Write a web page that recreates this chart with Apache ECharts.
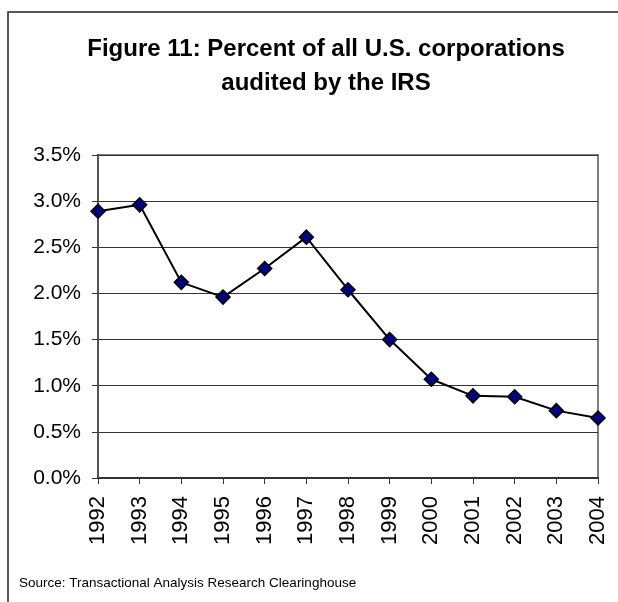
<!DOCTYPE html>
<html>
<head>
<meta charset="utf-8">
<script src="https://cdn.jsdelivr.net/npm/echarts@6/dist/echarts.min.js"></script>
<style>
html, body { margin: 0; padding: 0; background: #fff; }
#main { width: 618px; height: 602px; }
</style>
</head>
<body>
<div id="main"></div>
<script>
var years = ['1992', '1993', '1994', '1995', '1996', '1997', '1998', '1999', '2000', '2001', '2002', '2003', '2004'];
var auditPct = [2.89, 2.96, 2.12, 1.96, 2.27, 2.61, 2.04, 1.50, 1.07, 0.89, 0.88, 0.73, 0.65];
var titleText = 'Figure 11: Percent of all U.S. corporations\naudited by the IRS';
var sourceText = 'Source: Transactional Analysis Research Clearinghouse';

var chart = echarts.init(document.getElementById('main'));

var option = {
    backgroundColor: '#ffffff',
    animation: false,
    title: {
        text: titleText,
        left: 321,
        top: 27,
        textAlign: 'center',
        textStyle: {
            fontFamily: 'Liberation Sans, Arial, sans-serif',
            fontSize: 24,
            fontWeight: 'bold',
            color: '#000',
            lineHeight: 34
        }
    },
    grid: {
        left: 98,
        right: 20,
        top: 155,
        bottom: 124,
        show: true,
        borderColor: '#808080',
        borderWidth: 2
    },
    xAxis: {
        type: 'category',
        data: years,
        boundaryGap: false,
        axisLine: { lineStyle: { color: '#333', width: 2 } },
        axisTick: { show: true, length: 6, alignWithLabel: true, lineStyle: { color: '#333' } },
        axisLabel: {
            rotate: 90,
            margin: 18,
            fontFamily: 'Liberation Sans, Arial, sans-serif',
            fontSize: 22,
            color: '#000'
        },
        splitLine: { show: false }
    },
    yAxis: {
        type: 'value',
        min: 0,
        max: 3.5,
        interval: 0.5,
        axisLine: { show: true, lineStyle: { color: '#555', width: 2 } },
        axisTick: { show: true, length: 6, lineStyle: { color: '#333' } },
        axisLabel: {
            margin: 17,
            fontFamily: 'Liberation Sans, Arial, sans-serif',
            fontSize: 21,
            color: '#000',
            formatter: function (v) { return v.toFixed(1) + '%'; }
        },
        splitLine: { show: true, lineStyle: { color: '#333', width: 1 } }
    },
    series: [
        {
            type: 'line',
            data: auditPct,
            symbol: 'diamond',
            symbolSize: 14,
            lineStyle: { color: '#000', width: 2 },
            itemStyle: { color: '#000080', borderColor: '#000', borderWidth: 1.5 }
        }
    ],
    graphic: [
        // frame round the chart (only left and top edges show)
        {
            type: 'polyline',
            shape: { points: [[8, 602], [8, 12], [618, 12]] },
            style: { stroke: '#222', lineWidth: 1.5, fill: null }
        },
        {
            type: 'text',
            left: 19,
            top: 576,
            style: {
                text: sourceText,
                font: '13.5px "Liberation Sans", Arial, sans-serif',
                fill: '#000'
            }
        }
    ]
};

chart.setOption(option);
</script>
</body>
</html>
